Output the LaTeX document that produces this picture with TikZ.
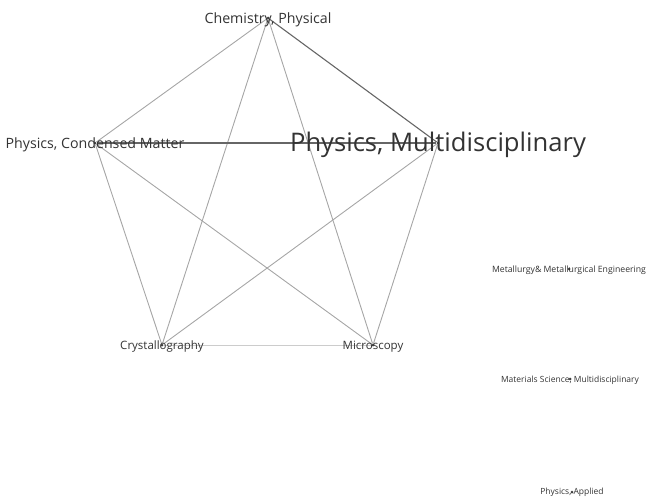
\documentclass[tikz,border=0pt]{standalone}
\usepackage{fontspec}
\setmainfont{Open Sans}
\usepackage{tikz}

\begin{document}
\begin{tikzpicture}[
        x=1pt, y=-1pt,
        vertex/.style={circle, fill=black!75, inner sep=0pt, minimum size=3pt},
        lbl/.style={text=black!80, inner sep=0pt, anchor=center, yshift=-1.5pt},
        edge/.style={draw=black!35, line width=0.9pt},
        strong/.style={draw=black!60, line width=1.1pt}
    ]
        \useasboundingbox (0,0) rectangle (647,496);

        % Vertices
        \node[vertex] (chem) at (268,18) {};
        \node[vertex] (pcm) at (95,143) {};
        \node[vertex] (pm) at (438,143) {};
        \node[vertex] (cry) at (162,345) {};
        \node[vertex] (mic) at (373,345) {};
        \node[vertex] (met) at (569,269) {};
        \node[vertex] (mat) at (570,379) {};
        \node[vertex] (app) at (572,492) {};

        % Edges
        \draw[edge] (chem) -- (pcm);
        \draw[edge] (chem) -- (cry);
        \draw[edge] (chem) -- (mic);
        \draw[edge] (pcm) -- (cry);
        \draw[edge] (pcm) -- (mic);
        \draw[edge] (pm) -- (cry);
        \draw[edge] (pm) -- (mic);
        \draw[edge, draw=black!20] (cry) -- (mic);
        \draw[strong] (chem) -- (pm);
        \draw[strong, line width=1.4pt] (pcm) -- (pm);

        % Labels
        \node[lbl, font=\fontsize{14.2}{16}\selectfont] at (chem) {Chemistry, Physical};
        \node[lbl, font=\fontsize{14.2}{16}\selectfont] at (pcm) {Physics, Condensed Matter};
        \node[lbl, font=\fontsize{25.6}{30}\selectfont] at (pm) {Physics, Multidisciplinary};
        \node[lbl, font=\fontsize{11.5}{13}\selectfont] at (cry) {Crystallography};
        \node[lbl, font=\fontsize{11.5}{13}\selectfont] at (mic) {Microscopy};
        \node[lbl, font=\fontsize{8.7}{10}\selectfont] at (met) {Metallurgy\& Metallurgical Engineering};
        \node[lbl, font=\fontsize{8.5}{10}\selectfont] at (mat) {Materials Science, Multidisciplinary};
        \node[lbl, font=\fontsize{8.5}{10}\selectfont, yshift=1.5pt] at (app) {Physics, Applied};

    \end{tikzpicture}
\end{document}
